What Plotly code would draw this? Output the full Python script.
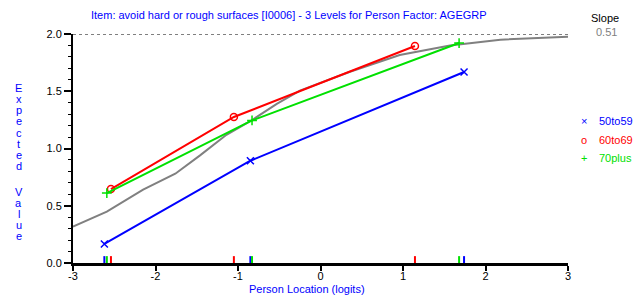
import plotly.graph_objects as go

# Observed class-interval means per person-factor level
groups = ["50to59", "60to69", "70plus"]
colors = ["#0000ff", "#ff0000", "#00e000"]
symbols = ["x-thin-open", "circle-open", "cross-thin-open"]
legend_marks = ["×", "o", "+"]
x_50 = [-2.62, -0.85, 1.74]
y_50 = [0.166, 0.893, 1.668]
x_60 = [-2.54, -1.05, 1.145]
y_60 = [0.646, 1.275, 1.895]
x_70 = [-2.59, -0.83, 1.68]
y_70 = [0.611, 1.245, 1.921]

# Expected value curve (ICC)
icc_x = [-3.0, -2.59, -2.15, -1.76, -1.46, -1.14, -0.815, -0.53, -0.25, 0.0, 0.358, 0.96, 1.57, 2.18, 2.98, 3.0]
icc_y = [0.317, 0.448, 0.64, 0.78, 0.94, 1.12, 1.255, 1.39, 1.505, 1.575, 1.67, 1.817, 1.90, 1.95, 1.976, 1.977]

slope_text = "0.51"
title_text = "Item: avoid hard or rough surfaces [I0006] - 3 Levels for Person Factor: AGEGRP"
x_title = "Person Location (logits)"
y_title = "Expected Value"
x_ticks = [-3, -2, -1, 0, 1, 2, 3]
y_ticks = [0.0, 0.5, 1.0, 1.5, 2.0]

FONT = "Liberation Sans, Arial, sans-serif"
FS = 11
L, R, T, B = 73, 73, 34, 34
W, H = 641, 297
PW, PH = W - L - R, H - T - B


def px(xp):
    return (xp - L) / PW


def py(yp):
    return (H - B - yp) / PH


fig = go.Figure()

# dashed line at max score
fig.add_trace(go.Scatter(x=[-3, 3], y=[2, 2], mode="lines",
                         line=dict(color="black", width=1, dash="3px,3px"),
                         showlegend=False, hoverinfo="skip"))

fig.add_trace(go.Scatter(x=icc_x, y=icc_y, mode="lines",
                         line=dict(color="#808080", width=2),
                         showlegend=False))

series = [(x_50, y_50), (x_60, y_60), (x_70, y_70)]
for (xs, ys), c, s, g in zip(series, colors, symbols, groups):
    fig.add_trace(go.Scatter(x=xs, y=ys, mode="lines+markers", name=g,
                             line=dict(color=c, width=2),
                             marker=dict(symbol=s, size=7, color=c,
                                         line=dict(color=c, width=1.5)),
                             cliponaxis=False, showlegend=False))

# rug ticks at the class interval locations
for (xs, ys), c in zip(series, colors):
    rx, ry = [], []
    for v in xs:
        rx += [v, v, None]
        ry += [0, 0.06, None]
    fig.add_trace(go.Scatter(x=rx, y=ry, mode="lines",
                             line=dict(color=c, width=2),
                             showlegend=False, hoverinfo="skip"))

fig.update_layout(
    width=W, height=H,
    margin=dict(l=L, r=R, t=T, b=B),
    paper_bgcolor="white", plot_bgcolor="white",
    font=dict(family=FONT, size=FS, color="black"),
    showlegend=False,
)


def note(xp, yp, text, color, anchor="center", size=FS):
    fig.add_annotation(xref="paper", yref="paper", x=px(xp), y=py(yp),
                       text=text, showarrow=False,
                       font=dict(color=color, size=size, family=FONT),
                       xanchor=anchor, yanchor="middle")


note(289, 15, title_text, "#0000ff")
note(307, 288.5, x_title, "#0000ff")

# vertical stacked letters of the y-axis title
letter_y = [88, 99.5, 110.5, 121.5, 133, 144, 155, 165.5, None, 191.5, 202.5, 213.5, 225, 236]
for ch, yy in zip(y_title, letter_y):
    if ch != " " and yy is not None:
        note(18.5, yy, ch, "#0000ff")

note(604.5, 18, "Slope", "black")
note(606, 32.5, slope_text, "#808080")
for g, c, m, yy in zip(groups, colors, legend_marks, [120.5, 140, 158]):
    note(584, yy, m, c)
    note(596.5, yy, g, c, anchor="left")

fig.update_xaxes(range=[-3, 3], tickvals=x_ticks, ticktext=[str(t) for t in x_ticks],
                 showgrid=False, zeroline=False, showline=True, linecolor="black",
                 linewidth=2.5, ticks="outside", ticklen=5, tickwidth=1.5, tickcolor="black",
                 tickfont=dict(size=FS, color="black"), ticklabelstandoff=-4)
fig.update_yaxes(range=[0, 2], tickvals=y_ticks, ticktext=[f"{t:.1f}" for t in y_ticks],
                 showgrid=False, zeroline=False, showline=True, linecolor="black",
                 linewidth=2, ticks="outside", ticklen=7, tickwidth=1.5, tickcolor="black",
                 tickfont=dict(size=FS, color="black"),
                 minor=dict(tickvals=[i / 10 for i in range(21)], ticks="outside",
                            ticklen=3, tickcolor="black", tickwidth=1))

fig.write_html("out.html", config={"displayModeBar": False},
               post_script="document.body.style.margin='0px';")
